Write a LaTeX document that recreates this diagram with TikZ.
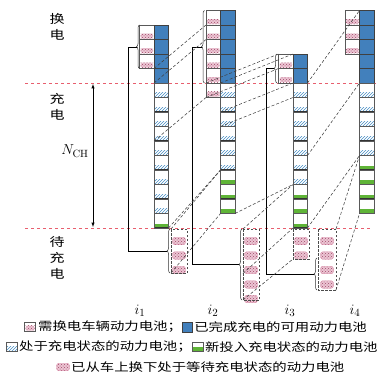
\documentclass[tikz,border=0pt]{standalone}
\usepackage{fontspec}
\newfontfamily\cjk[FakeStretch=1.25]{Noto Sans CJK SC}
\usetikzlibrary{patterns,decorations.pathreplacing}
\definecolor{fullblue}{RGB}{66,128,188}
\definecolor{chgblue}{RGB}{70,140,195}
\definecolor{newgreen}{RGB}{95,180,55}
\definecolor{vehpink}{RGB}{200,90,130}
\definecolor{cutred}{RGB}{232,95,110}
\tikzset{
  cell/.style={draw=gray!70!black, minimum width=14.5pt, minimum height=14.5pt,
               inner sep=0pt, outer sep=0pt, anchor=north west, line width=0.5pt},
  full/.style={cell, fill=fullblue, draw=black!75},
  chg/.style={cell, path picture={
      \fill[pattern=north east lines, pattern color=chgblue]
        ([yshift=1pt]path picture bounding box.south west) rectangle
        ([yshift=5pt]path picture bounding box.south east);
      \draw[black!80, line width=1.2pt] (path picture bounding box.south west) --
        (path picture bounding box.south east);}},
  new/.style={cell, path picture={
      \fill[newgreen]
        ([yshift=1pt]path picture bounding box.south west) rectangle
        ([yshift=4.5pt]path picture bounding box.south east);
      \draw[black!80, line width=1.2pt] (path picture bounding box.south west) --
        (path picture bounding box.south east);}},
  veh/.style={cell, path picture={
      \fill[vehpink!35, rounded corners=1.5pt]
        ([shift={(1pt,0.8pt)}]path picture bounding box.south west) rectangle
        ([shift={(-1pt,6pt)}]path picture bounding box.south east);
      \fill[pattern=crosshatch dots, pattern color=vehpink!80!black]
        ([shift={(1pt,0.8pt)}]path picture bounding box.south west) rectangle
        ([shift={(-1pt,6pt)}]path picture bounding box.south east);}},
  wbat/.style={draw=vehpink!70, fill=vehpink!35, rounded corners=2.5pt,
               minimum width=13pt, minimum height=7.5pt, inner sep=0pt,
               path picture={\fill[pattern=crosshatch dots, pattern color=vehpink!80!black]
               (path picture bounding box.south west) rectangle (path picture bounding box.north east);}},
  pool/.style={draw=black!70, dashed, dash pattern=on 2.5pt off 1.5pt, line width=0.5pt},
  grp/.style={decorate, decoration={brace, amplitude=3pt}, line width=0.5pt, black!80},
  link/.style={draw=black!75, dash pattern=on 3pt off 2pt, line width=0.55pt},
  cut/.style={draw=cutred, dash pattern=on 3pt off 3pt, line width=0.6pt},
  lab/.style={font=\cjk\fontsize{12}{12}\selectfont, inner sep=0pt},
  key/.style={font=\cjk\fontsize{11.5}{11.5}\selectfont, inner sep=0pt, anchor=west},
}
\begin{document}
\begin{tikzpicture}[x=1pt, y=-1pt]
  \useasboundingbox (0,0) rectangle (383,375);
  % stage boundaries
  \draw[cut] (25,83) -- (378,83);
  \draw[cut] (25,228) -- (372,228);
  \node[lab] (t1) at (57,19) {换};
  \node[lab] (t2) at (57,35) {电};
  \node[lab] (t3) at (57,99) {充};
  \node[lab] (t4) at (57,115) {电};
  \node[lab] (t5) at (57,242) {待};
  \node[lab] (t6) at (57,258) {充};
  \node[lab] (t7) at (57,274) {电};
  \coordinate (nt) at (93,84);
  \coordinate (nb) at (93,227);
  \draw[<->, >=latex, line width=0.5pt] (nt) -- (nb);
  \node[font=\fontsize{15}{15}\selectfont] (nch) at (75,151) {$N_{\mathrm{CH}}$};

  % battery columns: swap rows, full rows, charging rows, new rows
  \foreach \j/\xs/\xc/\sa/\sb/\fa/\cb/\nb in {1/139.5/154/2/4/2/14/15,
      2/206/220.5/1/6/1/11/14, 3/278.5/293/4/5/4/12/15, 4/345/359.5/1/3/1/10/14}{
    \foreach \r in {\sa,...,\sb} \node[veh] (s\j-\r) at (\xs,{14.5*\r-4}) {};
    \foreach \r in {\fa,...,5} \node[full] (q\j-\r) at (\xc,{14.5*\r-4}) {};
    \foreach \r in {6,...,\cb} \node[chg] (q\j-\r) at (\xc,{14.5*\r-4}) {};
    \pgfmathtruncatemacro\na{\cb+1}
    \foreach \r in {\na,...,\nb} \node[new] (q\j-\r) at (\xc,{14.5*\r-4}) {};
  }

  % waiting pools
  \foreach \p/\x/\n in {a/179/3, b/251/5, c/301/2, d/327/4}
    \foreach \m in {1,...,\n} \node[wbat] (w\p-\m) at (\x,{226.5+14.5*\m}) {};
  \draw[pool] (171,229) coordinate (pa) rectangle (187,273);
  \draw[pool] (243,229) coordinate (pb) rectangle (259,300) coordinate (pbe);
  \draw[pool] (293,229) rectangle (309,259);
  \draw[pool] (318,229) rectangle (336,290) coordinate (pde);
  \coordinate (pab) at (171,273);
  \coordinate (pbm) at (243,273.5);
  \coordinate (pbb) at (243,300);
  \coordinate (pcb) at (293,259);
  \coordinate (pdt) at (336,229);

  % braces
  \draw[grp] (s1-4.south west) -- (s1-2.north west) coordinate[midway, xshift=-3pt] (g1);
  \draw[grp] ([xshift=-1.5pt]s2-5.south west) -- ([xshift=-1.5pt]s2-1.north west);
  \coordinate (g2) at (201.5,46.75);
  \draw[grp] ([xshift=-1.5pt]s3-5.south west) -- ([xshift=-1.5pt]s3-4.north west);
  \coordinate (g3) at (274,68.5);
  \draw[grp] (170,273) -- (170,229);
  \coordinate (h1) at (167,251);
  \draw[grp] (242,300) -- (242,229);
  \coordinate (h2) at (239,264.5);
  \draw[grp] (317,290) -- (317,258);
  \coordinate (h3) at (314,274);
  \draw[line width=0.5pt] (g1) -- ++(-8,0) |- (h1);
  \draw[line width=0.5pt] (g2) -- ++(-9,0) |- (h2);
  \draw[line width=0.5pt] (g3) -- ++(-8,0) |- (h3);

  % battery transfers between decision moments
  \draw[link] (q1-5.north west) -- (s2-2.north west);
  \draw[link] (q1-6.north west) -- (s2-3.north west);
  \draw[link] (q1-9.south west) -- (s2-6.south west);
  \draw[link] (q1-15.south east) -- (q2-11.south west);
  \draw[link] (pa) -- (q2-12.north west);
  \draw[link] (pab) -- (q2-14.south west);
  \draw[link] (s2-6.north west) -- (s3-4.north west);
  \draw[link] (s2-6.south west) -- (s3-4.south west);
  \draw[link] (q2-6.north west) -- (q3-4.north west);
  \draw[link] (q2-7.south west) -- (q3-5.south west);
  \draw[link] (q2-8.south west) -- (q3-6.south west);
  \draw[link] (q2-14.south east) -- (q3-13.north west);
  \draw[link] (pb) -- (q3-13.north west);
  \draw[link] (pbm) -- (q3-15.south west);
  \draw[link] (pbb) -- (pcb);
  \draw[link] (q3-6.north east) -- (q4-1.north west);
  \draw[link] (q3-10.south east) -- (q4-6.north west);
  \draw[link] (q3-15.south east) -- (q4-11.north west);
  \draw[link] (pdt) -- (q4-11.north west);
  \draw[link] (pde) -- (q4-14.south west);

  % decision moments
  \foreach \j/\x in {1/140, 2/213, 3/290, 4/355}
    \node[font=\fontsize{15}{15}\selectfont] (i\j) at (\x,311) {$i_{\j}$};

  % legend
  \node[veh, anchor=center, minimum height=9pt, minimum width=11pt] (k1) at (30,327) {};
  \node[key] (l1) at (38,327) {需换电车辆动力电池；};
  \node[full, anchor=west, minimum height=10pt, minimum width=10pt] (k2) at (l1.east) {};
  \node[key] (l2) at ([xshift=2pt]k2.east) {已完成充电的可用动力电池};
  \node[chg, anchor=center, minimum height=9pt, minimum width=11pt] (k3) at (12,347) {};
  \node[key] (l3) at (19,347) {处于充电状态的动力电池；};
  \node[new, anchor=west, minimum height=9pt, minimum width=11pt] (k4) at (l3.east) {};
  \node[key] (l4) at ([xshift=2pt]k4.east) {新投入充电状态的动力电池};
  \node[wbat, anchor=center] (k5) at (63,367) {};
  \node[key] (l5) at (71,367) {已从车上换下处于等待充电状态的动力电池};
\end{tikzpicture}
\end{document}
